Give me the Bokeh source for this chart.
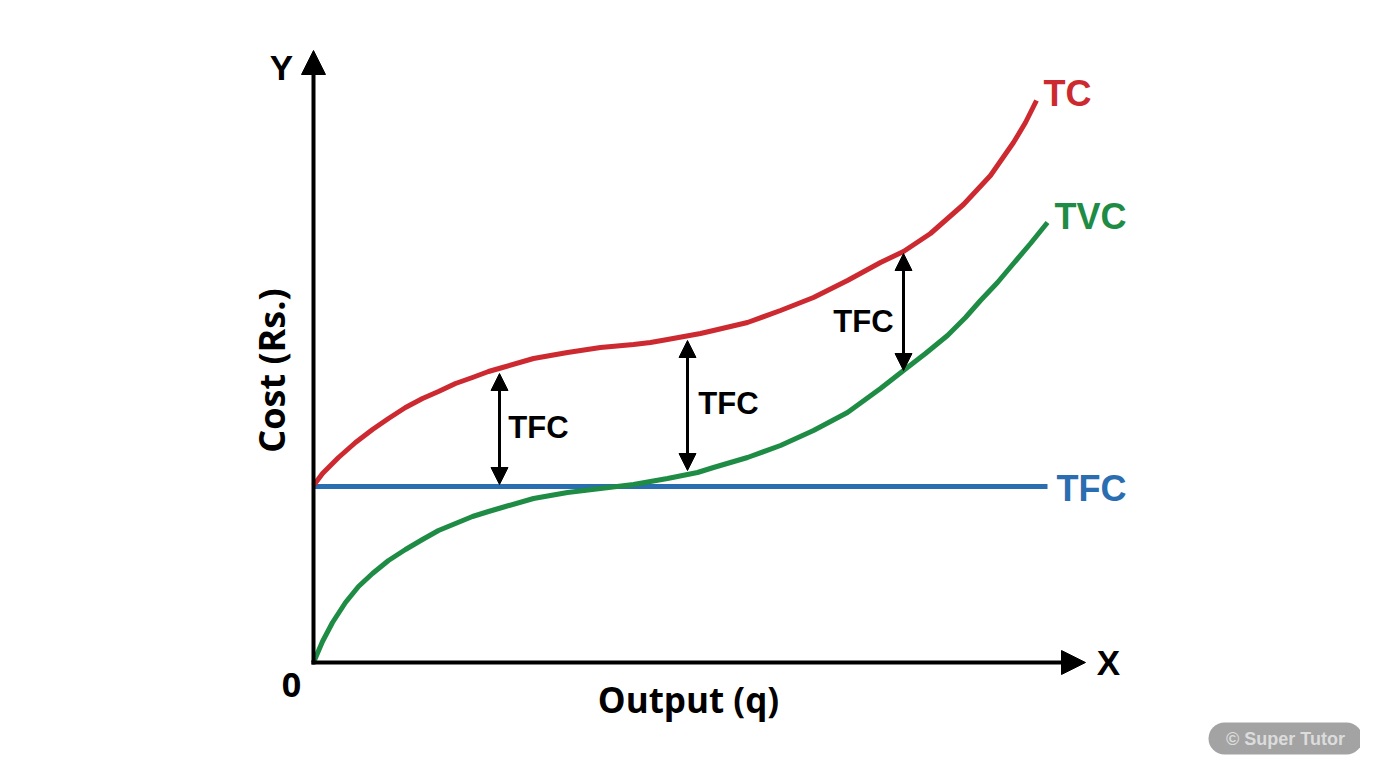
import math

from bokeh.plotting import figure
from bokeh.embed import file_html
from bokeh.resources import INLINE
from bokeh.models import (Arrow, NormalHead, Label, BoxAnnotation,
                          ColumnDataSource, Range1d)

# values (output q, cost)
tc_q = [0, 9, 25, 42, 59, 75, 92, 109, 125, 142, 159, 175, 189, 220, 254,
        287, 320, 337, 354, 387, 400, 434, 467, 500, 534, 567, 590, 617, 650,
        677, 700, 712, 723]
tc_cost = [177, 189, 205, 220, 233, 244, 255, 264, 271, 279, 285, 291, 295,
           304, 310, 315, 318, 320, 323, 329, 332, 340, 352, 365, 382, 400,
           411, 429, 458, 487, 520, 540, 562]

tvc_q = [0, 9, 19, 32, 45, 59, 75, 92, 109, 125, 142, 159, 175, 192, 220, 254,
         287, 320, 354, 384, 400, 434, 467, 500, 534, 567, 590, 612, 634, 652,
         667, 684, 700, 717, 734]
tvc_cost = [0, 21, 40, 60, 76, 89, 102, 113, 123, 132, 139, 146, 151, 156,
            164, 170, 174, 178, 184, 190, 195, 205, 217, 232, 250, 274, 292,
            309, 327, 345, 362, 380, 399, 419, 440]

tfc_q = [0, 734]
tfc_cost = [176, 176]

# TFC gap arrows between TC and TVC/TFC
gap_q = [186, 374, 590]
gap_top = [289, 322, 409]
gap_bottom = [178, 192, 292]

RED = "#cc2a30"
GREEN = "#1e8c45"
BLUE = "#2a6db0"

p = figure(width=1360, height=760, output_backend="svg", toolbar_location=None,
           x_axis_type=None, y_axis_type=None, min_border=0, tools="",
           x_range=Range1d(-313, 1047), y_range=Range1d(-98, 662))
p.outline_line_color = None
p.grid.visible = False
p.background_fill_color = "white"

p.line(tfc_q, tfc_cost, color=BLUE, line_width=5)
p.line(tvc_q, tvc_cost, color=GREEN, line_width=5, line_join="round")
p.line(tc_q, tc_cost, color=RED, line_width=5, line_join="round")

# axes drawn as arrows
p.add_layout(Arrow(end=NormalHead(size=24, fill_color="black", line_color="black"),
                   x_start=0, y_start=-2, x_end=0, y_end=612, line_width=4))
p.add_layout(Arrow(end=NormalHead(size=24, fill_color="black", line_color="black"),
                   x_start=-2, y_start=0, x_end=772, y_end=0, line_width=4))

src = ColumnDataSource(dict(q=gap_q, top=gap_top, bottom=gap_bottom))
p.add_layout(Arrow(start=NormalHead(size=17, fill_color="black", line_color="black"),
                   end=NormalHead(size=17, fill_color="black", line_color="black"),
                   x_start="q", y_start="bottom", x_end="q", y_end="top",
                   line_width=3, source=src))


def lab(x, y, text, size, color="black", font="Liberation Sans", angle=0):
    p.add_layout(Label(x=x, y=y, text=text, text_font=font,
                       text_font_size=f"{size}px", text_font_style="bold",
                       text_color=color, text_align="center",
                       text_baseline="middle", angle=angle))


lab(225, 235, "TFC", 31)
lab(415, 259, "TFC", 31)
lab(550, 341, "TFC", 31)

lab(754, 569, "TC", 36, RED)
lab(777, 446, "TVC", 36, GREEN)
lab(778, 174, "TFC", 36, BLUE)

lab(-32, 595, "Y", 35)
lab(795, 0, "X", 35)
lab(-22, -22, "0", 34, font="Open Sans")
lab(375, -37, "Output (q)", 35, font="Open Sans")
lab(-42, 292, "Cost (Rs.)", 36, font="Open Sans", angle=math.pi / 2)

# watermark badge
p.add_layout(BoxAnnotation(left=895, right=1049, bottom=-92, top=-60,
                           fill_color="#a3a3a3", fill_alpha=1.0,
                           line_color=None, border_radius=16))
p.add_layout(Label(x=972, y=-76, text="© Super Tutor", text_font="Liberation Sans",
                   text_font_size="18px", text_font_style="bold",
                   text_color="#dcdcdc", text_align="center",
                   text_baseline="middle"))

open("out.html", "w").write(file_html(p, INLINE))
